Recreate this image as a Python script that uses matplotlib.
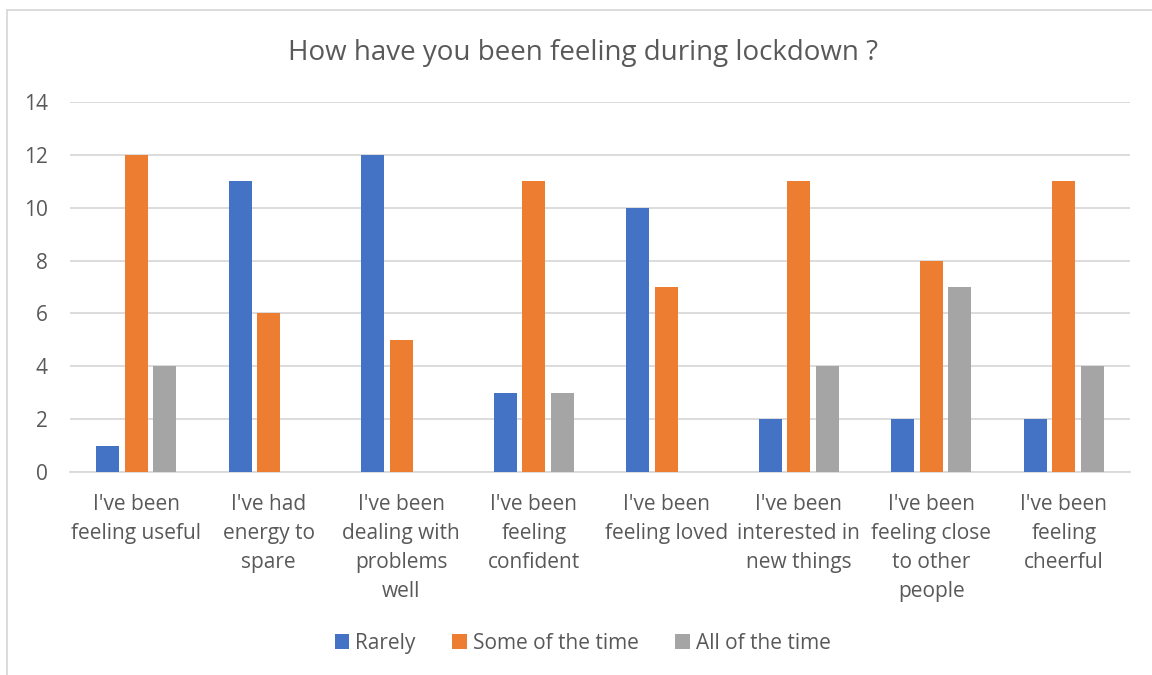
import numpy as np
import matplotlib.pyplot as plt
from matplotlib.lines import Line2D

categories = ["I've been\nfeeling useful", "I've had\nenergy to\nspare",
              "I've been\ndealing with\nproblems\nwell", "I've been\nfeeling\nconfident",
              "I've been\nfeeling loved", "I've been\ninterested in\nnew things",
              "I've been\nfeeling close\nto other\npeople", "I've been\nfeeling\ncheerful"]
rarely = [1, 11, 12, 3, 10, 2, 2, 2]
some_time = [12, 6, 5, 11, 7, 11, 8, 11]
all_time = [4, 0, 0, 3, 0, 4, 7, 4]
series_names = ['Rarely', 'Some of the time', 'All of the time']
colors = ['#4472C4', '#ED7D31', '#A5A5A5']

plt.rcParams['font.family'] = ['Open Sans', 'DejaVu Sans']
text_color = '#595959'

fig = plt.figure(figsize=(11.52, 6.75), dpi=100)
ax = fig.add_axes([0.0608, 0.3007, 0.9202, 0.5483])

x = np.arange(len(categories))
width = 0.175
step = 0.215
for i, (vals, name, col) in enumerate(zip([rarely, some_time, all_time], series_names, colors)):
    ax.bar(x + (i - 1) * step, vals, width, color=col, label=name, zorder=3)

ax.set_xlim(-0.5, len(categories) - 0.5)
ax.set_ylim(0, 14)
ax.set_yticks(range(0, 15, 2))
ax.yaxis.grid(True, color='#d9d9d9', linewidth=1.3, zorder=0)
ax.set_xticks(x)
ax.set_xticklabels(categories, fontsize=15, color=text_color, linespacing=1.5)
ax.tick_params(axis='y', labelsize=15, labelcolor=text_color, length=0, pad=16)
ax.tick_params(axis='x', length=0, pad=16)
for s in ['top', 'right', 'left']:
    ax.spines[s].set_visible(False)
ax.spines['bottom'].set_color('#d9d9d9')
ax.spines['bottom'].set_linewidth(1.3)

fig.text(0.5065, 0.921, 'How have you been feeling during lockdown ?', ha='center', va='center',
         fontsize=20, color=text_color)

leg = fig.legend(loc='center', bbox_to_anchor=(0.506, 0.047), ncol=3, frameon=False,
                 fontsize=15, handlelength=0.7, handleheight=0.7, handletextpad=0.3,
                 columnspacing=1.75)
for t in leg.get_texts():
    t.set_color(text_color)

# chart border (top and left visible)
fig.add_artist(Line2D([7 / 1152, 1], [1 - 10 / 675, 1 - 10 / 675], color='#d9d9d9', linewidth=1.3))
fig.add_artist(Line2D([7 / 1152, 7 / 1152], [0, 1 - 10 / 675], color='#d9d9d9', linewidth=1.3))

fig.savefig('out.png', dpi=100)
